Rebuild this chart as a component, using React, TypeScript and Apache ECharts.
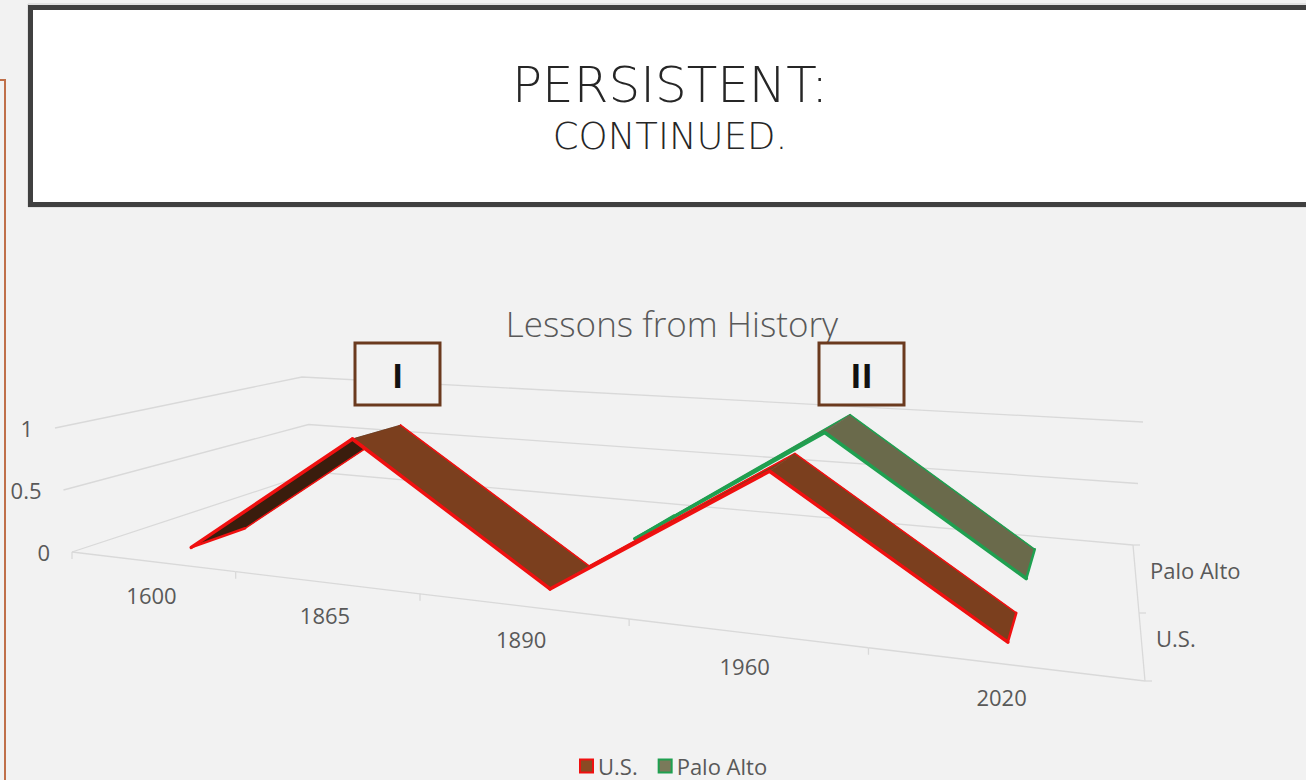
import React, { useEffect, useRef } from "react";
import * as echarts from "echarts";

// ---------- data ----------
const categories = ["1600", "1865", "1890", "1960", "2020"];
const seriesNames = ["U.S.", "Palo Alto"];
const usValues: (number | null)[] = [0, 1, 0, 1, 0];
const paloAltoValues: (number | null)[] = [null, null, 0, 1, 0];
const valueTicks = [0, 0.5, 1];
const chartTitle = "Lessons from History";
const slideTitle = "PERSISTENT:";
const slideSubtitle = "CONTINUED.";
const markers = ["I", "II"];

// ---------- layout / style ----------
const W = 1306;
const H = 780;
const GRID = { left: 0, top: 0, width: 500, height: 500 };
// projected corners of the 3D box (front/back, left/right, bottom/top)
const FLB = [72, 552];
const FLT = [55, 428];
const FRB = [1145, 681];
const FRT = [1165, 518];
const BLB = [315, 472];
const BLT = [302, 377];
const BRB = [1133, 545];
const BRT = [1143, 422];
const WARP_FRONT = 0.72;
const WARP_BACK = 0.85;
const RIBBON_FRONT = 0.17;
const RIBBON_BACK = 0.4;
const GRID_COLOR = "#d9d9d9";
const LABEL_COLOR = "#595959";
const FONT = "'Open Sans', 'Noto Sans', sans-serif";
const TITLE_FONT = "'DejaVu Sans', 'Open Sans', sans-serif";

const ribbonStyles = [
  { top: "#7b3f1e", under: "#3a1d0d", edge: "#f01010", legend: "#8b4a23" },
  { top: "#6a6a4b", under: "#3d4a35", edge: "#1fa050", legend: "#7a7a5a" },
];

function warp(u: number, a: number) {
  return (a * u) / (1 + (a - 1) * u);
}
function lerp(p: number[], q: number[], t: number) {
  return [p[0] + (q[0] - p[0]) * t, p[1] + (q[1] - p[1]) * t];
}
function project(u: number, z: number, v: number) {
  const tf = warp(u, WARP_FRONT);
  const tb = warp(u, WARP_BACK);
  const fb = lerp(FLB, FRB, tf);
  const ft = lerp(FLT, FRT, tf);
  const bb = lerp(BLB, BRB, tb);
  const bt = lerp(BLT, BRT, tb);
  const f = lerp(fb, ft, v);
  const b = lerp(bb, bt, v);
  return lerp(f, b, z);
}
// data -> normalized (u, v) through the hidden cartesian axes
function uv(api: any, cat: number, val: number) {
  const p = api.coord([cat, val]);
  return [(p[0] - GRID.left) / GRID.width, (GRID.top + GRID.height - p[1]) / GRID.height];
}

function ribbonSeries(name: string, values: (number | null)[], row: number) {
  const st = ribbonStyles[row];
  const data: number[][] = [];
  for (let k = 0; k < values.length - 1; k++) {
    const a = values[k];
    const b = values[k + 1];
    if (a != null && b != null) data.push([k, a, b]);
  }
  const first = data[0][0];
  const last = data[data.length - 1][0] + 1;
  return {
    type: "custom",
    name,
    coordinateSystem: "cartesian2d",
    clip: false,
    silent: true,
    z: 5 + (1 - row),
    itemStyle: { color: st.legend, borderColor: st.edge, borderWidth: 2 },
    data,
    renderItem: (params: any, api: any) => {
      const k = api.value(0);
      const v0 = api.value(1);
      const v1 = api.value(2);
      const a = uv(api, k, v0);
      const b = uv(api, k + 1, v1);
      const zf = row * 0.5 + RIBBON_FRONT;
      const zb = row * 0.5 + RIBBON_BACK;
      const F0 = project(a[0], zf, a[1]);
      const F1 = project(b[0], zf, b[1]);
      const B0 = project(a[0], zb, a[1]);
      const B1 = project(b[0], zb, b[1]);
      const cross =
        (F1[0] - F0[0]) * (B0[1] - F0[1]) - (F1[1] - F0[1]) * (B0[0] - F0[0]);
      const fill = cross < 0 ? st.top : st.under;
      const children: any[] = [
        {
          type: "polygon",
          shape: { points: [F0, F1, B1, B0] },
          style: { fill, stroke: fill, lineWidth: 0.6 },
        },
        {
          type: "polyline",
          shape: { points: [B0, B1] },
          style: { stroke: st.edge, lineWidth: 1.5, fill: null, lineCap: "round" },
        },
        {
          type: "polyline",
          shape: { points: [F0, F1] },
          style: { stroke: st.edge, lineWidth: 3.5, fill: null, lineCap: "round" },
        },
      ];
      if (k === first) {
        children.push({
          type: "polyline",
          shape: { points: [F0, B0] },
          style: { stroke: st.edge, lineWidth: 2.5, fill: null, lineCap: "round" },
        });
      }
      if (k + 1 === last) {
        children.push({
          type: "polyline",
          shape: { points: [F1, B1] },
          style: { stroke: st.edge, lineWidth: 2.5, fill: null, lineCap: "round" },
        });
      }
      return { type: "group", children };
    },
  };
}

function buildOption() {
  const n = categories.length;
  const gridSeries = {
    type: "custom",
    name: "grid",
    coordinateSystem: "cartesian2d",
    clip: false,
    silent: true,
    z: 2,
    data: valueTicks.map((v) => [-0.5, v]),
    renderItem: (params: any, api: any) => {
      const p = uv(api, api.value(0), api.value(1));
      const v = p[1];
      const a = project(0, 0, v);
      const b = project(0, 1, v);
      const c = project(1, 1, v);
      return {
        type: "group",
        children: [
          {
            type: "polyline",
            shape: { points: [a, b, c] },
            style: { stroke: GRID_COLOR, lineWidth: 1.3, fill: null },
          },
          {
            type: "text",
            x: a[0] - 22,
            y: a[1],
            style: {
              text: String(api.value(1)),
              fill: LABEL_COLOR,
              fontSize: 22,
              fontFamily: FONT,
              align: "right",
              verticalAlign: "middle",
            },
          },
        ],
      };
    },
  };

  const categorySeries = {
    type: "custom",
    name: "categories",
    coordinateSystem: "cartesian2d",
    clip: false,
    silent: true,
    z: 2,
    data: categories.map((c, i) => [i, 0]),
    renderItem: (params: any, api: any) => {
      const i = api.value(0);
      const left = uv(api, i - 0.5, 0);
      const mid = uv(api, i, 0);
      const right = uv(api, i + 0.5, 0);
      const pl = project(left[0], 0, 0);
      const pr = project(right[0], 0, 0);
      const pm = project(mid[0], 0, 0);
      const children: any[] = [
        {
          type: "line",
          shape: { x1: pl[0], y1: pl[1], x2: pr[0], y2: pr[1] },
          style: { stroke: GRID_COLOR, lineWidth: 1.3 },
        },
        {
          type: "line",
          shape: { x1: pl[0], y1: pl[1], x2: pl[0], y2: pl[1] + 7 },
          style: { stroke: GRID_COLOR, lineWidth: 1.3 },
        },
        {
          type: "text",
          x: pm[0],
          y: pm[1] + 33,
          style: {
            text: categories[i],
            fill: LABEL_COLOR,
            fontSize: 22,
            fontFamily: FONT,
            align: "center",
            verticalAlign: "middle",
          },
        },
      ];
      if (i === n - 1) {
        // depth axis on the right side
        const d0 = project(1, 0, 0);
        const d1 = project(1, 0.5, 0);
        const d2 = project(1, 1, 0);
        children.push({
          type: "polyline",
          shape: { points: [d0, d2] },
          style: { stroke: GRID_COLOR, lineWidth: 1.3, fill: null },
        });
        [d0, d1, d2].forEach((d) =>
          children.push({
            type: "line",
            shape: { x1: d[0], y1: d[1], x2: d[0] + 7, y2: d[1] },
            style: { stroke: GRID_COLOR, lineWidth: 1.3 },
          })
        );
        seriesNames.forEach((s, r) => {
          const d = project(1, r * 0.5 + 0.25, 0);
          children.push({
            type: "text",
            x: d[0] + 14,
            y: d[1] - 9,
            style: {
              text: s,
              fill: LABEL_COLOR,
              fontSize: 22,
              fontFamily: FONT,
              align: "left",
              verticalAlign: "middle",
            },
          });
        });
      }
      return { type: "group", children };
    },
  };

  const markerBoxes = [
    { x: 355, y: 343 },
    { x: 819, y: 343 },
  ];

  return {
    animation: false,
    backgroundColor: "#f2f2f2",
    grid: { ...GRID, show: false },
    xAxis: { type: "value", min: -0.5, max: n - 0.5, show: false },
    yAxis: { type: "value", min: 0, max: 1, show: false },
    legend: {
      data: seriesNames.map((s, r) => ({
        name: s,
        itemStyle: {
          color: ribbonStyles[r].legend,
          borderColor: ribbonStyles[r].edge,
          borderWidth: 2,
        },
      })),
      icon: "rect",
      itemWidth: 13,
      itemHeight: 13,
      itemGap: 20,
      left: 579,
      top: 755,
      padding: 0,
      textStyle: {
        color: LABEL_COLOR,
        fontSize: 22,
        lineHeight: 22,
        fontFamily: FONT,
      },
      selectedMode: false,
    },
    graphic: [
      // left panel edge
      {
        type: "polyline",
        shape: { points: [[0, 80], [5, 80], [5, 780]] },
        style: { stroke: "#c0704a", lineWidth: 2, fill: null },
        z: 1,
      },
      // slide title box
      {
        type: "rect",
        shape: { x: 28, y: 4, width: 1300, height: 203 },
        style: { fill: "none", stroke: "#d0d0d0", lineWidth: 1 },
        z: 1,
      },
      {
        type: "rect",
        shape: { x: 30.5, y: 7.5, width: 1300, height: 197 },
        style: { fill: "#ffffff", stroke: "#404040", lineWidth: 5 },
        z: 1,
      },
      {
        type: "text",
        x: 670,
        y: 85,
        style: {
          text: slideTitle,
          fill: "#262626",
          fontSize: 50,
          fontWeight: 200,
          fontFamily: TITLE_FONT,
          align: "center",
          verticalAlign: "middle",
        },
        z: 2,
      },
      {
        type: "text",
        x: 670,
        y: 136,
        style: {
          text: slideSubtitle,
          fill: "#262626",
          fontSize: 37,
          fontWeight: 200,
          fontFamily: TITLE_FONT,
          align: "center",
          verticalAlign: "middle",
        },
        z: 2,
      },
      // chart title
      {
        type: "text",
        x: 672,
        y: 323,
        style: {
          text: chartTitle,
          fill: LABEL_COLOR,
          fontSize: 35,
          fontWeight: 300,
          fontFamily: FONT,
          align: "center",
          verticalAlign: "middle",
        },
        z: 2,
      },
      // marker boxes
      ...markerBoxes.flatMap((b, i) => [
        {
          type: "rect",
          shape: { x: b.x, y: b.y, width: 85, height: 62 },
          style: { fill: "#f2f2f2", stroke: "#6b3a1e", lineWidth: 3 },
          z: 20,
        },
        {
          type: "text",
          x: b.x + 42.5,
          y: b.y + 32,
          style: {
            text: markers[i],
            fill: "#111111",
            fontSize: 34,
            fontWeight: "bold",
            fontFamily: FONT,
            align: "center",
            verticalAlign: "middle",
          },
          z: 21,
        },
      ]),
    ],
    series: [
      gridSeries,
      categorySeries,
      ribbonSeries(seriesNames[1], paloAltoValues, 1),
      ribbonSeries(seriesNames[0], usValues, 0),
    ],
  };
}

export default function App() {
  const ref = useRef<HTMLDivElement>(null);
  useEffect(() => {
    if (!ref.current) return;
    const chart = echarts.init(ref.current, undefined, { renderer: "svg" });
    chart.setOption(buildOption() as any);
    return () => chart.dispose();
  }, []);
  return (
    <div
      ref={ref}
      style={{ position: "fixed", left: 0, top: 0, width: W, height: H }}
    />
  );
}
